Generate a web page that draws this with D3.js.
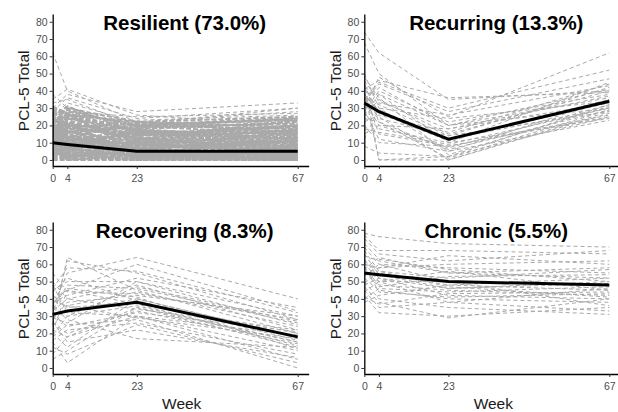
<!DOCTYPE html>
<html>
<head>
<meta charset="utf-8">
<script src="https://cdn.jsdelivr.net/npm/d3@7"></script>
<style>
    body { margin: 0; background: #fff; }
    .tick text { font-family: "Liberation Sans", Arial, sans-serif; font-size: 10.5px; fill: #4d4d4d; }
    .title { font-family: "Liberation Sans", Arial, sans-serif; font-size: 20.5px; font-weight: bold; fill: #000; }
    .axis-label { font-family: "Liberation Sans", Arial, sans-serif; font-size: 15.5px; fill: #1a1a1a; }
    .traj { fill: none; stroke: #a9a9a9; stroke-width: 1; stroke-dasharray: 4,3; }
    .mean { fill: none; stroke: #000; stroke-width: 3; }
</style>
</head>
<body>
<div class="container"></div>
<script>
const WIDTH = 618;
const HEIGHT = 412;

var weeks = [0, 4, 23, 67];
var yTicks = [0, 10, 20, 30, 40, 50, 60, 70, 80];
var titles = ['Resilient (73.0%)', 'Recurring (13.3%)', 'Recovering (8.3%)', 'Chronic (5.5%)'];

// class means at weeks 0, 4, 23, 67
var meanResilient = [10, 9, 5, 5];
var meanRecurring = [33, 28, 12, 34];
var meanRecovering = [31, 33, 38, 18];
var meanChronic = [55, 54, 50, 48];

// individual trajectories (weeks 0, 4, 23, 67)
// resilient: the dense band, and the few lines above it
var resilient = [
    [12,10,4,3],[8,15,6,2],[20,14,9,7],[5,3,1,0],[0,2,0,1],[15,22,12,10],[25,18,14,16],[10,6,2,4],[3,8,5,2],[18,12,7,9],
    [7,4,0,0],[22,26,16,12],[14,9,3,5],[2,0,1,0],[9,13,8,6],[28,20,18,22],[16,11,5,3],[6,7,2,8],[11,17,10,14],[4,1,0,2],
    [19,24,20,18],[13,5,1,0],[24,16,11,8],[1,4,3,1],[17,8,6,12],[9,19,13,4],[26,29,19,24],[12,3,0,2],[21,15,4,6],[6,12,9,11],
    [0,0,0,0],[15,7,2,1],[10,21,15,20],[31,27,17,13],[8,2,4,7],[23,19,21,16],[3,10,7,3],[14,25,14,19],[27,12,8,10],[5,6,11,15],
    [18,3,0,5],[11,9,16,9],[2,14,6,0],[20,30,22,25],[7,0,3,4],[16,20,12,17],[29,23,13,6],[13,16,19,21],[1,7,2,9],[9,1,10,13],
    [4,11,18,22],[22,6,3,1],[0,13,9,5],[15,28,20,14],[8,17,4,18],[19,2,6,3],[11,24,17,10],[26,14,1,8],[3,20,12,23],[13,26,22,19],
    [10,12,7,11],[6,18,15,7],[21,9,12,20],[2,5,8,16],[17,21,3,0],[12,1,6,13],[30,25,10,4],[7,16,20,24],[24,11,15,17],[14,3,9,2],
    [5,22,2,6],[19,6,18,12],[0,9,14,20],[25,31,16,9],[9,27,5,1],[16,13,21,23],[3,2,11,18],[28,17,4,11],[11,19,1,5],[20,8,17,15]
];
var resilientUpper = [
    [35,41,26,20],[62,40,22,15],[30,38,28,33],[28,36,24,30],[25,33,22,28],[38,30,20,25],[22,28,25,27],[33,35,20,23],[26,25,23,26],[17,27,21,30]
];
var recurring = [
    [74,62,35,40],[68,50,20,30],[45,0,0,28],[40,0,2,32],[35,45,30,52],[30,48,25,62],[42,38,10,45],[25,35,15,40],[50,30,5,35],[38,28,12,30],
    [20,10,8,25],[33,25,0,27],[28,40,22,38],[15,20,18,33],[36,32,14,42],[44,22,6,29],[27,18,10,24],[31,42,20,36],[48,36,3,31],[22,26,16,44],
    [39,15,8,26],[12,30,24,34],[34,44,28,47],[29,12,5,23],[46,34,18,37],[24,22,1,29],[37,29,12,33],[18,16,9,30],[41,46,36,39],[32,24,14,28],
    [26,38,20,41],[43,27,11,35],[8,4,2,25],[35,20,7,32],[30,33,26,43]
];
var recovering = [
    [30,62,55,28],[25,64,45,20],[35,55,64,40],[40,45,60,33],[20,12,40,18],[15,3,30,5],[5,10,35,12],[45,50,50,25],[28,38,42,30],[32,30,36,15],
    [50,40,48,22],[22,18,30,10],[38,42,52,35],[18,25,28,0],[42,35,38,20],[26,20,33,14],[34,48,46,26],[12,8,25,3],[30,33,40,18],[55,44,43,28],
    [36,28,17,12],[24,36,44,24],[44,52,39,16],[16,22,26,8],[33,40,34,22],[48,32,30,19],[29,26,50,30],[21,45,37,13],[39,36,29,17],[27,15,22,6],
    [46,58,56,32],[31,24,32,21],[19,30,47,27],[37,46,41,11],[8,18,35,15]
];
var chronic = [
    [78,76,72,70],[77,68,68,66],[75,66,62,68],[70,60,58,55],[65,62,55,58],[62,55,48,45],[60,58,65,60],[58,48,45,42],[55,50,50,48],[52,45,40,38],
    [50,40,35,31],[48,52,46,50],[45,35,38,33],[42,32,30,35],[40,46,44,47],[38,42,48,52],[57,64,55,52],[63,52,42,40],[54,58,60,62],[47,38,29,40],
    [68,56,52,57],[44,50,56,45],[59,44,41,43],[53,60,50,36],[66,54,46,49],[41,37,43,44],[56,47,53,54],[72,63,57,50],[49,56,47,41],[61,50,38,46]
];

var translate = function(x, y) {
    return `translate(${x},${y})`;
};

var drawPanel = function(svg, opts) {
    // x axis runs a little past week 67, y axis a little past 0 and 80
    let xScale = d3.scaleLinear().domain([0, 70]).range([0, 70 * 245 / 67]);
    let yScale = d3.scaleLinear().domain([-3.5, 84.5]).range([152, 0]);

    var g = svg.append('g').attr('transform', translate(opts.x, opts.y));

    var line = d3.line()
        .x((d, i) => xScale(weeks[i]))
        .y((d) => yScale(d));

    opts.groups.forEach(function(grp) {
        g.append('g').selectAll('path').data(grp.lines).enter()
            .append('path')
            .classed('traj', true)
            .style('stroke-width', grp.width)
            .style('stroke-dasharray', grp.dash)
            .attr('d', (d) => line(d));
    });

    g.append('path')
        .classed('mean', true)
        .attr('d', line(opts.mean));

    let xAxis = d3.axisBottom(xScale).tickValues(weeks).tickSize(3).tickSizeOuter(0).tickPadding(6);
    let yAxis = d3.axisLeft(yScale).tickValues(yTicks).tickSize(3).tickSizeOuter(0).tickPadding(2);

    g.append('g').attr('transform', translate(0, 152)).call(xAxis);
    g.append('g').call(yAxis);
    g.selectAll('.domain').attr('stroke', '#000').attr('stroke-width', 1.3);
    g.selectAll('.tick line').attr('stroke', '#333');

    g.append('text')
        .classed('title', true)
        .attr('x', 132)
        .attr('y', 16)
        .attr('text-anchor', 'middle')
        .text(opts.title);

    g.append('text')
        .classed('axis-label', true)
        .attr('transform', translate(-29, yScale(40)) + ' rotate(-90)')
        .attr('dy', '0.35em')
        .attr('text-anchor', 'middle')
        .text('PCL-5 Total');

    if (opts.week) {
        g.append('text')
            .classed('axis-label', true)
            .attr('x', 129)
            .attr('y', 187)
            .attr('text-anchor', 'middle')
            .text('Week');
    }
};

var fillLayout = function() {
    var svg = d3.select('.container').append('svg')
        .attr('width', WIDTH)
        .attr('height', HEIGHT);

    drawPanel(svg, { x: 52.7, y: 14, mean: meanResilient, title: titles[0],
        groups: [{ lines: resilient, width: 2, dash: '5,2' }, { lines: resilientUpper, width: 1, dash: '4,3' }] });
    drawPanel(svg, { x: 364.3, y: 14, mean: meanRecurring, title: titles[1],
        groups: [{ lines: recurring, width: 1, dash: '4,3' }] });
    drawPanel(svg, { x: 52.7, y: 222, mean: meanRecovering, title: titles[2], week: true,
        groups: [{ lines: recovering, width: 1, dash: '4,3' }] });
    drawPanel(svg, { x: 364.3, y: 222, mean: meanChronic, title: titles[3], week: true,
        groups: [{ lines: chronic, width: 1, dash: '4,3' }] });
};
window.onload = fillLayout;
</script>
</body>
</html>
